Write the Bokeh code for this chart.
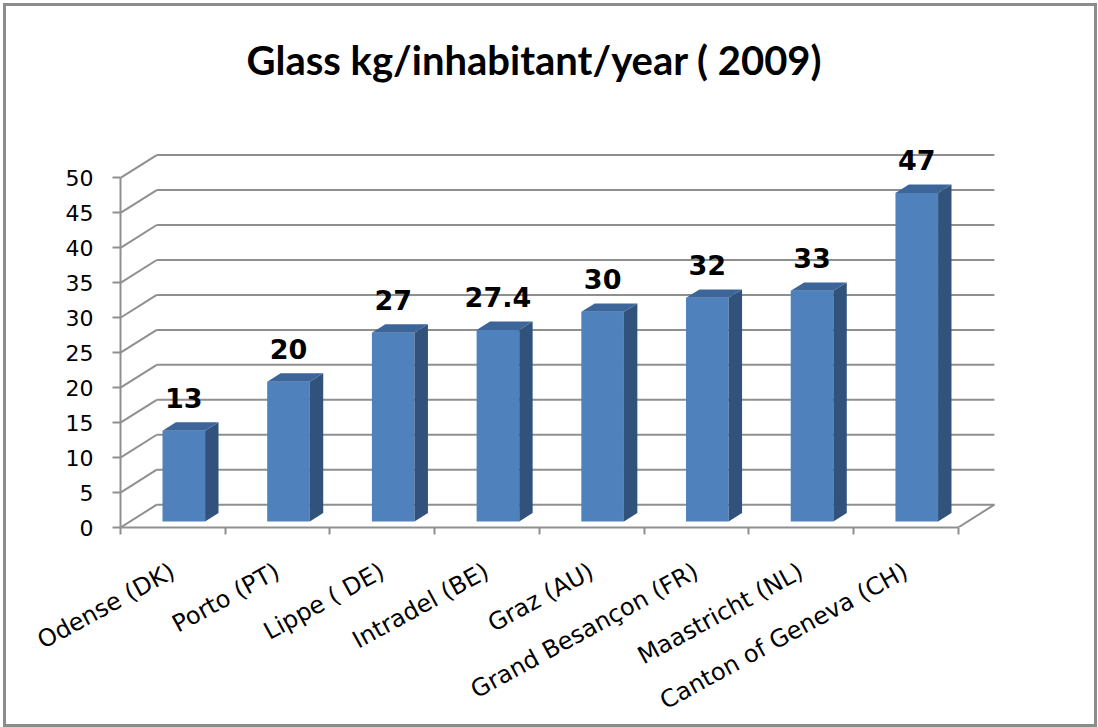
from bokeh.plotting import figure
from bokeh.models import FixedTicker, Range1d, Title
from bokeh.embed import file_html
from bokeh.resources import INLINE
from bokeh.core.properties import value

# ---------------- data ----------------
categories = ["Odense (DK)", "Porto (PT)", "Lippe ( DE)", "Intradel (BE)",
              "Graz (AU)", "Grand Besançon (FR)", "Maastricht (NL)",
              "Canton of Geneva (CH)"]
values = [13, 20, 27, 27.4, 30, 32, 33, 47]
y_ticks = [0, 5, 10, 15, 20, 25, 30, 35, 40, 45, 50]
title_text = "Glass kg/inhabitant/year ( 2009)"

# ---------------- geometry / style ----------------
PX_X = 104.0          # px per category
PX_Y = 7.04           # px per unit
DX = 36 / PX_X        # depth offset (category units)
DY = 23 / PX_Y        # depth offset (value units)
F, B = 0.26, 0.63     # bar front / back depth fractions
BL, BR = 0.311, 0.718 # bar left / right inside category
GRID = "#8f8f8f"
FRONT = "#4F81BD"
SIDE = "#31527A"
TOP = "#3C6699"

n = len(categories)
ymax = max(y_ticks)

p = figure(width=1088, height=718,
           x_range=Range1d(0, 880 / PX_X), y_range=Range1d(0, 430 / PX_Y),
           output_backend="svg", toolbar_location=None,
           min_border_left=114, min_border_right=94,
           min_border_top=94, min_border_bottom=194)
p.styles = {"border": "3px solid #8c8c8c", "box-sizing": "content-box",
            "margin": "3px 0 0 3px"}
p.outline_line_color = None
p.xgrid.visible = False
p.ygrid.visible = False
p.background_fill_color = "white"
p.border_fill_color = "white"

# walls: back gridlines, side diagonals, floor edge
gx0 = [DX for t in y_ticks]
gx1 = [n + DX for t in y_ticks]
gy = [t + DY for t in y_ticks]
p.segment(x0=gx0, y0=gy, x1=gx1, y1=gy, line_color=GRID, line_width=2)
p.segment(x0=[0 for t in y_ticks], y0=y_ticks, x1=[DX for t in y_ticks], y1=gy,
          line_color=GRID, line_width=2)
p.segment(x0=[n], y0=[0], x1=[n + DX], y1=[DY], line_color=GRID, line_width=2)

# bars
fx0 = [i + BL + F * DX for i in range(n)]
fx1 = [i + BR + F * DX for i in range(n)]
fy0 = [F * DY for v in values]
fy1 = [v + F * DY for v in values]
ddx = (B - F) * DX
ddy = (B - F) * DY
p.quad(left=fx0, right=fx1, bottom=fy0, top=fy1, fill_color=FRONT, line_color=None)
side_xs = [[a, a + ddx, a + ddx, a] for a in fx1]
side_ys = [[b0, b0 + ddy, b1 + ddy, b1] for b0, b1 in zip(fy0, fy1)]
p.patches(side_xs, side_ys, fill_color=SIDE, line_color=None)
top_xs = [[a, c, c + ddx, a + ddx] for a, c in zip(fx0, fx1)]
top_ys = [[b1, b1, b1 + ddy, b1 + ddy] for b1 in fy1]
p.patches(top_xs, top_ys, fill_color=TOP, line_color=None)

# data labels
p.text(x=[(a + c) / 2 for a, c in zip(fx0, fx1)], y=fy1,
       text=[f"{v:g}" for v in values], y_offset=-33,
       text_align="center", text_baseline="alphabetic",
       text_font=value("DejaVu Sans"), text_font_style="bold",
       text_font_size="27px", text_color="black")

# y axis
ya = p.yaxis[0]
ya.ticker = FixedTicker(ticks=y_ticks, minor_ticks=[])
ya.bounds = (0, ymax)
ya.axis_line_color = GRID
ya.axis_line_width = 2
ya.major_tick_line_color = GRID
ya.major_tick_line_width = 2
ya.major_tick_out = 8
ya.major_tick_in = 0
ya.minor_tick_line_color = None
ya.major_label_standoff = 19
ya.major_label_text_font = "DejaVu Sans"
ya.major_label_text_font_size = "22px"
ya.major_label_text_color = "black"

# x axis
xa = p.xaxis[0]
xa.ticker = FixedTicker(ticks=[i + 0.5 for i in range(n)], minor_ticks=list(range(n + 1)))
xa.bounds = (0, n)
xa.axis_line_color = GRID
xa.axis_line_width = 2
xa.major_tick_line_color = None
xa.major_tick_out = 0
xa.major_tick_in = 0
xa.minor_tick_line_color = GRID
xa.minor_tick_line_width = 2
xa.minor_tick_out = 7
xa.minor_tick_in = 0
xa.major_label_orientation = 0.5
xa.major_label_standoff = 35
xa.major_label_overrides = {i + 0.5: c for i, c in enumerate(categories)}
xa.major_label_text_font = "DejaVu Sans"
xa.major_label_text_font_size = "24px"
xa.major_label_text_color = "black"

# title
p.title = Title(text=title_text, align="left", offset=126, standoff=33,
                text_font="Lato", text_font_style="bold", text_font_size="40px",
                text_color="black")

open("out.html", "w").write(file_html(p, INLINE))
